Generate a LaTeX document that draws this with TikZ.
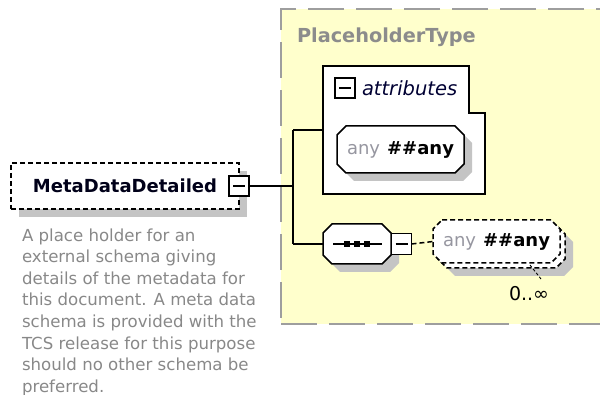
\documentclass[tikz,border=0pt]{standalone}
\usepackage{fontspec}
\setmainfont{DejaVu Sans}
\usetikzlibrary{shadows}
\definecolor{ptyellow}{RGB}{255,255,204}
\definecolor{ptborder}{RGB}{158,158,158}
\definecolor{shadowgrey}{RGB}{196,196,196}
\definecolor{descgrey}{RGB}{136,136,136}
\definecolor{titlegrey}{RGB}{140,140,140}
\definecolor{anygrey}{RGB}{150,150,160}
\newcommand{\octpath}[3][]{\draw[fill=white,#1] ([xshift=#3]#2.north west) -- ([xshift=-#3]#2.north east) -- ([yshift=-#3]#2.north east) -- ([yshift=#3]#2.south east) -- ([xshift=-#3]#2.south east) -- ([xshift=#3]#2.south west) -- ([yshift=#3]#2.south west) -- ([yshift=-#3]#2.north west) -- cycle;}
\begin{document}
\begin{tikzpicture}[x=1pt,y=-1pt,line width=1.5pt,
  every node/.style={inner sep=0pt, outer sep=0pt},
  shadowed/.style={drop shadow={shadow xshift=8pt,shadow yshift=-8pt,fill=shadowgrey,opacity=1}},
  optdash/.style={dash pattern=on 5pt off 3pt},
  elembox/.style={draw, fill=white, optdash, shadowed},
  minusbox/.style={draw, fill=white, minimum width=20pt, minimum height=20pt,
    path picture={\draw[line width=1.3pt] ([xshift=4pt]path picture bounding box.west) -- ([xshift=-4pt]path picture bounding box.east);}},
  ptbox/.style={draw=ptborder, fill=ptyellow, line width=2pt, dash pattern=on 36pt off 12pt},
  labelfont/.style={font=\fontsize{18}{20}\selectfont},
]
\useasboundingbox (0,0) rectangle (600,395);

% container
\node[ptbox, minimum width=330pt, minimum height=315pt, anchor=north west] (ptype) at (281,9.5) {};
\node[anchor=west, font=\bfseries\fontsize{19.3}{20}\selectfont, text=titlegrey] (ptlabel) at (297,37) {PlaceholderType};

% main element
\node[elembox, minimum width=228pt, minimum height=46pt, font=\bfseries\fontsize{18}{20}\selectfont, text=black!90!blue] (main) at (125,186) {MetaDataDetailed};
\node[minusbox] (mainminus) at (239,186) {};

\node[anchor=north west, align=left, text=descgrey, font=\fontsize{16.6}{21.6}\selectfont] (desc) at (22,228.5)
 {A place holder for an\\external schema giving\\details of the metadata for\\this document. A meta data\\schema is provided with the\\TCS release for this purpose\\should no other schema be\\preferred.};

% junctions
\coordinate (jt) at (293,130);
\coordinate (jm) at (293,186);
\coordinate (jb) at (293,244);

% attributes box
\node[minimum width=162pt, minimum height=128pt, anchor=north west] (attr) at (323,66) {};
\draw[fill=white] (attr.north west) -- ++(146,0) -- ++(0,47) -- (attr.east |- 0,113) -- (attr.south east) -- (attr.south west) -- cycle;
\node[minusbox] (attrminus) at (345,88) {};
\node[anchor=west, font=\itshape\fontsize{19.5}{21}\selectfont, text=black!80!blue] (attrlabel) at (362,88) {attributes};
\node[minimum width=127pt, minimum height=47pt] (anyattr) at (400.5,149.5) {};
\octpath[shadowed]{anyattr}{9pt}
\node[labelfont] (anyattrtext) at (anyattr.center) {\textcolor{anygrey}{any}\hspace{7pt}\textbf{\#\#any}};

% sequence
\node[minimum width=68pt, minimum height=40pt] (seq) at (357,244) {};
\octpath[shadowed]{seq}{9pt}
\draw ([xshift=-24pt]seq.center) -- ([xshift=25pt]seq.center);
\foreach \dx in {-10,0,10} \fill ([xshift=\dx pt]seq.center) +(-3,-3) rectangle +(3,3);
\node[minusbox, minimum height=21pt] (seqminus) at (401.5,244) {};

% any element (repeated, optional)
\node[minimum width=127pt, minimum height=43pt] (anyback) at (501.5,246.5) {};
\octpath[optdash,shadowed]{anyback}{9pt}
\node[minimum width=127pt, minimum height=43pt] (anyfront) at (496.5,241.5) {};
\octpath[optdash]{anyfront}{9pt}
\node[labelfont] (anyfronttext) at (anyfront.center) {\textcolor{anygrey}{any}\hspace{7pt}\textbf{\#\#any}};
\node[font=\fontsize{19}{20}\selectfont] (mult) at (529,294) {0..∞};
\coordinate (t1) at (530,265);
\coordinate (t2) at (541,279);
\draw[line width=0.9pt, dash pattern=on 3pt off 2pt] (t1) -- (t2);

% connectors
\draw (mainminus.east) -- (jm);
\draw (jt) -- (jb);
\draw (jt) -- (attr.west |- jt);
\draw (jb) -- (seq.west);
\draw[optdash] (seqminus.east) -- (anyfront.west);
\end{tikzpicture}
\end{document}
